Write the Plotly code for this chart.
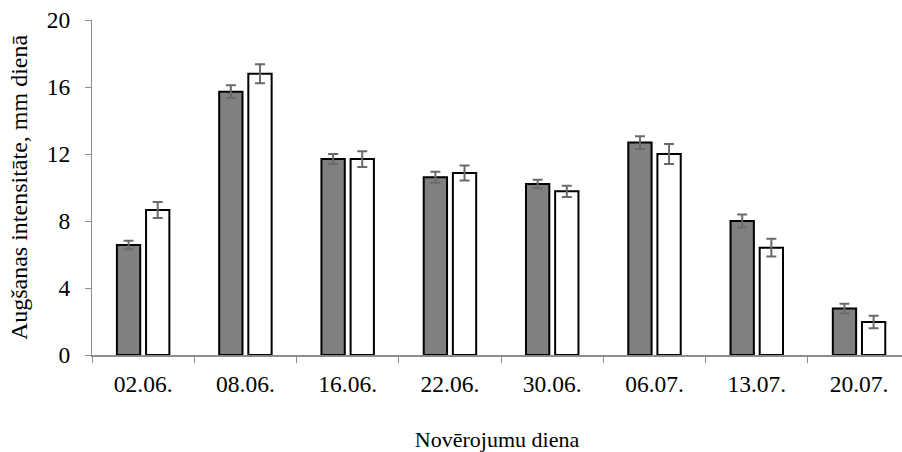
import plotly.graph_objects as go

categories = ["02.06.", "08.06.", "16.06.", "22.06.", "30.06.", "06.07.", "13.07.", "20.07."]
series_a = [6.57, 15.72, 11.7, 10.61, 10.21, 12.68, 8.0, 2.77]
err_a = [0.25, 0.38, 0.3, 0.33, 0.25, 0.38, 0.39, 0.29]
series_b = [8.66, 16.79, 11.7, 10.87, 9.77, 12.0, 6.41, 1.97]
err_b = [0.48, 0.57, 0.47, 0.45, 0.34, 0.59, 0.53, 0.37]
y_ticks = [0, 4, 8, 12, 16, 20]

font_family = "Liberation Serif, Times New Roman, serif"
err_style = dict(type="data", visible=True, color="#6a6a6a", thickness=2, width=5)

fig = go.Figure()
fig.add_trace(go.Bar(
    x=categories, y=series_a, name="A",
    marker=dict(color="#808080", line=dict(color="#000000", width=2)),
    error_y=dict(array=err_a, **err_style),
))
fig.add_trace(go.Bar(
    x=categories, y=series_b, name="B",
    marker=dict(color="#ffffff", line=dict(color="#000000", width=2)),
    error_y=dict(array=err_b, **err_style),
))

fig.update_layout(
    width=902, height=452,
    margin=dict(l=92, r=0, t=20, b=97),
    paper_bgcolor="white", plot_bgcolor="white",
    barmode="group", bargap=0.43, bargroupgap=0.2,
    showlegend=False,
    font=dict(family=font_family, color="#000000", size=23.5),
)
fig.update_xaxes(
    type="category", range=[-0.5, 7.42],
    showline=True, linecolor="#8c8c8c", linewidth=2,
    ticks="outside", tickson="boundaries", ticklen=6, tickcolor="#8c8c8c", tickwidth=1,
    showgrid=False, zeroline=False,
    tickfont=dict(size=23.5, family=font_family),
    ticklabelstandoff=7,
    title=dict(text="Novērojumu diena", font=dict(size=22, family=font_family), standoff=38),
)
fig.update_yaxes(
    range=[0, 20], tickvals=y_ticks,
    showline=True, linecolor="#8c8c8c", linewidth=1,
    ticks="outside", ticklen=6, tickcolor="#8c8c8c",
    showgrid=False, zeroline=False,
    tickfont=dict(size=23.5, family=font_family),
    ticklabelstandoff=10,
    title=dict(text="Augšanas intensitāte, mm dienā", font=dict(size=24, family=font_family), standoff=12),
)

fig.write_html("out.html")
